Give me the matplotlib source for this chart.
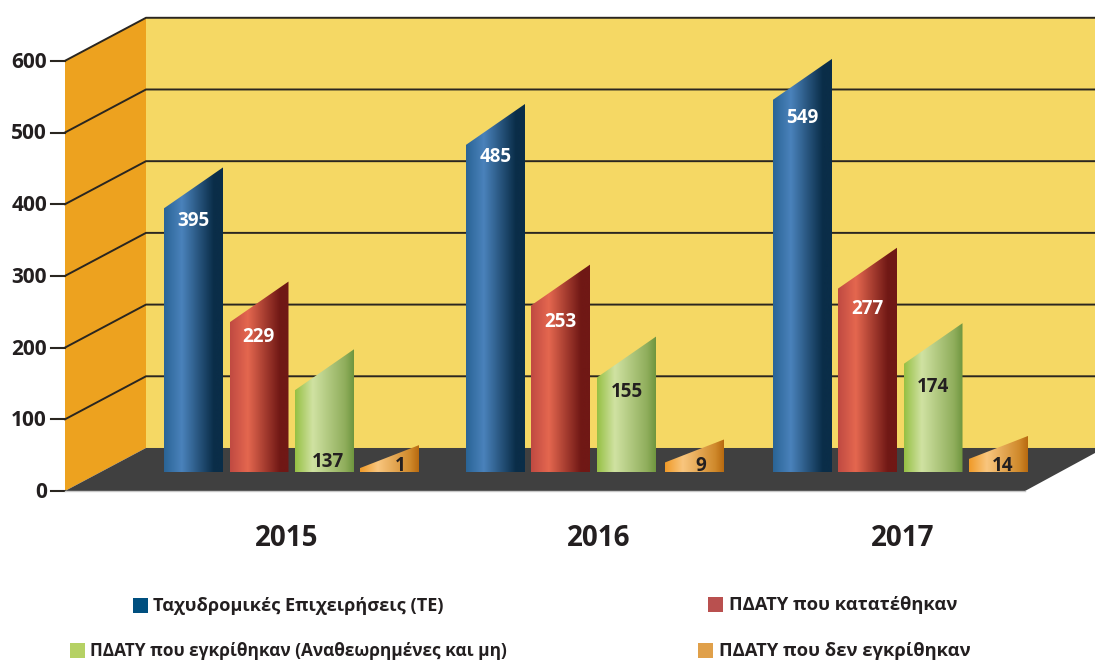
import matplotlib
matplotlib.use("Agg")
import matplotlib.pyplot as plt
import numpy as np
from matplotlib.colors import LinearSegmentedColormap
from matplotlib.patches import Polygon, Rectangle

plt.rcParams['font.family'] = ['Open Sans', 'DejaVu Sans']

# data
years = ['2015', '2016', '2017']
te = [395, 485, 549]
katatethikan = [229, 253, 277]
egkrithikan = [137, 155, 174]
den_egkrithikan = [1, 9, 14]
y_ticks = [0, 100, 200, 300, 400, 500, 600]
series_names = ['Ταχυδρομικές Επιχειρήσεις (ΤΕ)', 'ΠΔΑΤΥ που κατατέθηκαν',
                'ΠΔΑΤΥ που εγκρίθηκαν (Αναθεωρημένες και μη)', 'ΠΔΑΤΥ που δεν εγκρίθηκαν']

# layout, everything in x pixels and y chart units
W, H = 1095, 662
Y0 = 491      # pixel row of value 0 on the front edge
PX = 0.717    # pixels per unit


def unit(pix):
    return (Y0 - pix) / PX


bar_x = [[164, 466, 773], [229.5, 531, 838], [295, 597, 903.5], [360, 665, 969]]
bar_w = 59
base = unit(472)
dx, dy = 81, 60
left = 65

gradients = [
    ['#2a6496', '#4a82bb', '#0a2d48', '#0a2d48'],
    ['#c04a42', '#e4674f', '#701815', '#701815'],
    ['#96c044', '#d0e2a2', '#90ae5c', '#6f963f'],
    ['#f09a28', '#f9c67e', '#d08a2c', '#b86a10'],
]
stops = [0, 0.3, 0.85, 1]
top_lift = [0, 4, 0, 0]
label_colors = ['white', 'white', '#231f20', '#231f20']
# label centre rows and x shift from the bar centre
label_rows = [[221, 157, 118], [337, 322, 309], [462, 392, 387], [466, 466, 466]]
label_shift = [[0, 0, 0], [-1, 0, 0], [3, 0, 0], [11, 6, 4]]
legend_sq = ['#004f7f', '#b9504f', '#b5d164', '#e0a04a']
legend_pos = [(133, 606, 153), (708, 605, 729), (70, 651, 90), (698, 651, 719)]
legend_size = [13.1, 13.2, 12.45, 13.2]

dark = '#2a2620'

fig = plt.figure(figsize=(W / 100, H / 100), dpi=100)
ax = fig.add_axes([0, 0, 1, 1])

# walls
ax.add_patch(Polygon([(left + dx, 0 + dy), (W, 0 + dy), (W, 600 + dy), (left + dx, 600 + dy)],
                     facecolor='#f5d864', edgecolor='none', zorder=1))
ax.add_patch(Polygon([(left, 0), (left + dx, dy), (left + dx, 600 + dy), (left, 600)],
                     facecolor='#eda21f', edgecolor='none', zorder=1))

# grid and ticks
for t in y_ticks:
    if t > 0:
        ax.plot([left, left + dx, W], [t, t + dy, t + dy], color=dark, lw=1.4, zorder=2)
    ax.plot([left - 14, left], [t, t], color=dark, lw=1.5, zorder=2)
    ax.text(47, t - 2, str(t), ha='right', va='center', fontsize=15, fontweight='bold', color='#231f20')

# floor
ax.add_patch(Polygon([(left, 0), (left + dx, dy), (W, dy), (W, unit(453)), (1025, 0)],
                     facecolor='#404040', edgecolor='none', zorder=3))
ax.plot([left, 1025], [0, 0], color='#c8c8c8', lw=1, zorder=3)

# bars, slanted top with a horizontal gradient clipped to the shape
all_series = [te, katatethikan, egkrithikan, den_egkrithikan]
for s, values in enumerate(all_series):
    cmap = LinearSegmentedColormap.from_list('bar%d' % s, list(zip(stops, gradients[s])))
    for g, v in enumerate(values):
        x0 = bar_x[s][g]
        right_top = 63 + 0.983 * v + top_lift[s]
        slant = 57 if v > 100 else 32
        left_top = right_top - slant
        poly = Polygon([(x0, base), (x0 + bar_w, base), (x0 + bar_w, right_top), (x0, left_top)],
                       facecolor='none', edgecolor='none', transform=ax.transData)
        ax.add_patch(poly)
        im = ax.imshow(np.linspace(0, 1, 128).reshape(1, -1), cmap=cmap, aspect='auto',
                       extent=[x0, x0 + bar_w, base, right_top], zorder=4)
        im.set_clip_path(poly)
        ax.text(x0 + bar_w / 2 + label_shift[s][g], unit(label_rows[s][g]), str(v), ha='center',
                va='center', fontsize=13.5, fontweight='bold', color=label_colors[s], zorder=5)

# year labels
year_x = [287, 599, 903]
for x, name in zip(year_x, years):
    ax.text(x, unit(538), name, ha='center', va='center', fontsize=20, fontweight='bold', color='#231f20')

# legend
for i, name in enumerate(series_names):
    sx, row, tx = legend_pos[i]
    ax.add_patch(Rectangle((sx, unit(row + 6.5)), 15, 15 / PX, facecolor=legend_sq[i], edgecolor='none'))
    ax.text(tx, unit(row), name, ha='left', va='center', fontsize=legend_size[i], fontweight='bold', color='#231f20')

ax.set_xlim(0, W)
ax.set_ylim(unit(H), unit(0))
ax.axis('off')

fig.savefig('out.png', dpi=100)
